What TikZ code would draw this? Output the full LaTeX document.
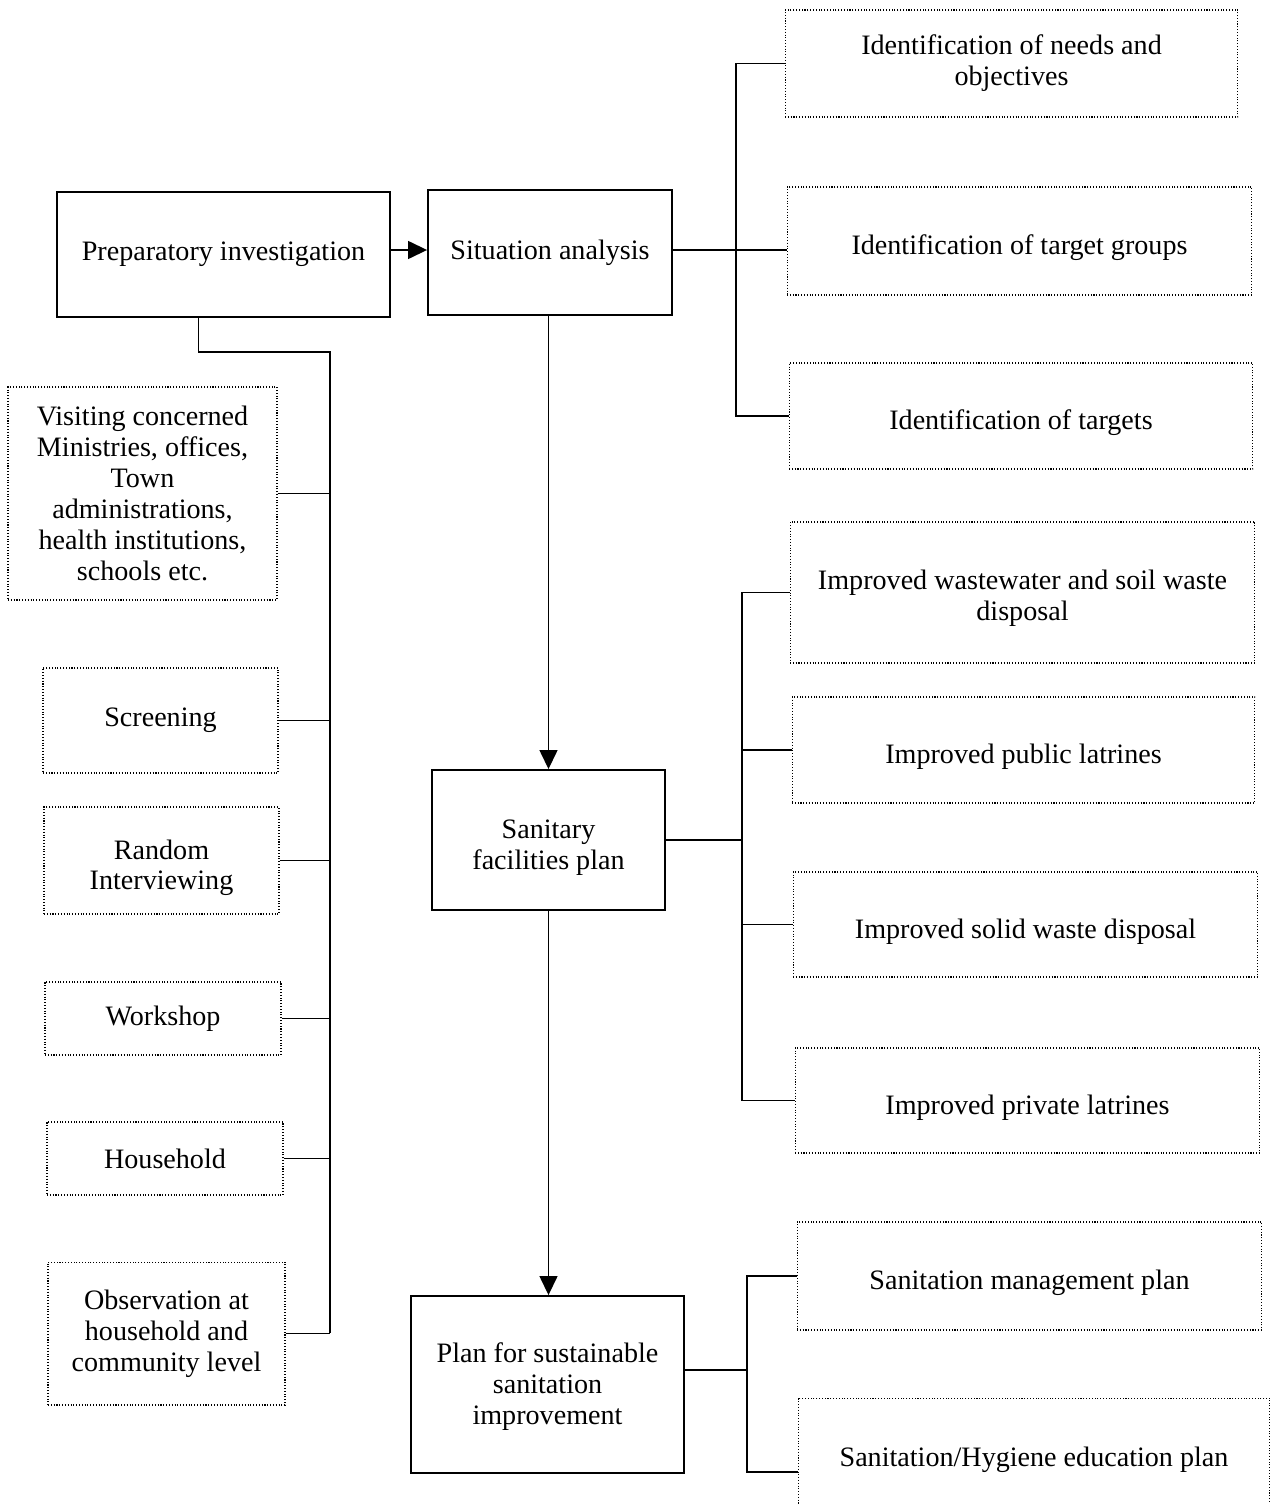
\documentclass[tikz,border=0pt]{standalone}
\usepackage{fontspec}
\setmainfont{Liberation Serif}
\usetikzlibrary{positioning,calc,arrows.meta}

\begin{document}
\begin{tikzpicture}[x=0.02cm, y=-0.02cm,
	every node/.style={font=\fontsize{16}{17.6}\selectfont, align=center, inner sep=0pt},
	solidbox/.style={draw, line width=1.1pt},
	dotbox/.style={draw, densely dotted, line width=0.6pt},
	sink/.style={text height=#1, text depth=3.5pt},
	link/.style={line width=0.8pt},
	arr/.style={line width=0.8pt, -{Triangle[length=0.38cm,width=0.36cm]}}]
		\useasboundingbox (0,0) rectangle (1274,1504);
		% middle column
		\node[name=prep, solidbox, minimum width=6.66cm, minimum height=2.5cm] at (223.5,254.5) {Preparatory investigation};
		\node[name=sit, solidbox, minimum width=4.88cm, minimum height=2.5cm] at (550,252.5) {Situation analysis};
		\node[name=sani, solidbox, sink=36.5pt, minimum width=4.66cm, minimum height=2.8cm] at (548.5,840) {Sanitary\\facilities plan};
		\node[name=plan, solidbox, sink=48.5pt, minimum width=5.46cm, minimum height=3.54cm] at (547.5,1384.5) {Plan for sustainable\\sanitation\\improvement};
		% right column
		\node[name=needs, dotbox, minimum width=9.06cm, minimum height=2.14cm] at (1011.5,63.5) {Identification of needs and\\objectives};
		\node[name=groups, dotbox, sink=19pt, minimum width=9.3cm, minimum height=2.16cm] at (1019.5,241) {Identification of target groups};
		\node[name=targets, dotbox, sink=19pt, minimum width=9.28cm, minimum height=2.12cm] at (1021,416) {Identification of targets};
		\node[name=waste, dotbox, sink=35pt, minimum width=9.3cm, minimum height=2.82cm] at (1022.5,592.5) {Improved wastewater and soil waste\\disposal};
		\node[name=public, dotbox, sink=19pt, minimum width=9.26cm, minimum height=2.12cm] at (1023.5,750) {Improved public latrines};
		\node[name=solid, dotbox, sink=19pt, minimum width=9.3cm, minimum height=2.1cm] at (1025.5,924.5) {Improved solid waste disposal};
		\node[name=private, dotbox, sink=19pt, minimum width=9.3cm, minimum height=2.1cm] at (1027.5,1100.5) {Improved private latrines};
		\node[name=mgmt, dotbox, sink=19pt, minimum width=9.3cm, minimum height=2.16cm] at (1029.5,1276) {Sanitation management plan};
		\node[name=edu, dotbox, minimum width=9.44cm, minimum height=2.48cm] at (1034,1460) {Sanitation/Hygiene education plan};
		% left column
		\node[name=visit, dotbox, minimum width=5.38cm, minimum height=4.26cm] at (142.5,493.5) {Visiting concerned\\Ministries, offices,\\Town\\administrations,\\health institutions,\\schools etc.};
		\node[name=screen, dotbox, minimum width=4.7cm, minimum height=2.1cm] at (160.5,720.5) {Screening};
		\node[name=rand, dotbox, sink=37pt, minimum width=4.7cm, minimum height=2.14cm] at (161.5,860.5) {Random\\Interviewing};
		\node[name=work, dotbox, minimum width=4.72cm, minimum height=1.46cm] at (163,1018.5) {Workshop};
		\node[name=house, dotbox, minimum width=4.72cm, minimum height=1.46cm] at (165,1158.5) {Household};
		\node[name=obs, dotbox, minimum width=4.74cm, minimum height=2.86cm] at (166.5,1333.5) {Observation at\\household and\\community level};

		% bus points
		\coordinate (lb) at (330,352);
		\coordinate (lbot) at (330,1333);
		\coordinate (b1) at (736,250);
		\coordinate (b2) at (742,840);
		\coordinate (b3) at (747,1370);

		\draw[arr] (prep.east |- b1) -- (sit.west |- b1);
		\draw[arr] (sani.north |- sit.south) -- (sani.north);
		\draw[arr] (sani.south) -- (sani.south |- plan.north);

		\draw[link] ([xshift=-0.5cm]prep.south) |- (lb) -- (lbot);
		\foreach \b in {visit,screen,rand,work,house,obs}
			\draw[link] (\b.east) -- (\b.east -| lb);

		\draw[link] (sit.east |- b1) -- (b1) -- (b1 -| groups.west);
		\draw[link] (needs.west) -| (b1) |- (targets.west);

		\draw[link] (sani.east) -- (b2);
		\draw[link] (waste.west) -| (b2) |- (private.west);
		\draw[link] (public.west) -- (public.west -| b2);
		\draw[link] (solid.west) -- (solid.west -| b2);

		\draw[link] (plan.east |- b3) -- (b3);
		\draw[link] (mgmt.west) -| (b3) |- ([yshift=-0.24cm]edu.west);
	\end{tikzpicture}
\end{document}
